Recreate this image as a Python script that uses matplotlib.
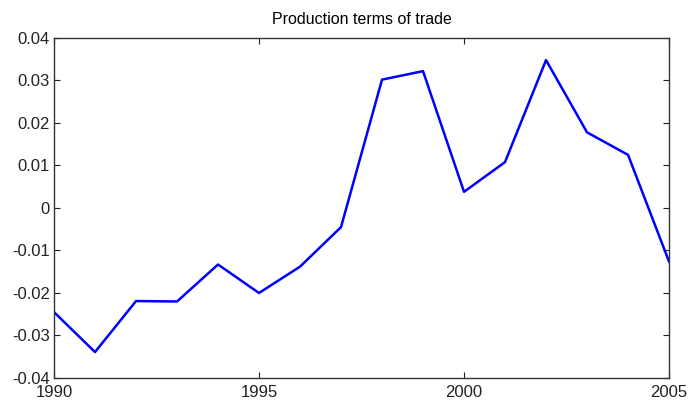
import numpy as np
import matplotlib.pyplot as plt

plt.rcParams['font.family'] = ['Liberation Sans', 'DejaVu Sans']

# Production terms of trade, yearly
years = [1990, 1991, 1992, 1993, 1994, 1995, 1996, 1997,
         1998, 1999, 2000, 2001, 2002, 2003, 2004, 2005]
tot = [-0.0245, -0.0339, -0.0219, -0.0220, -0.0133, -0.0200, -0.0138, -0.0045,
       0.0302, 0.0322, 0.0038, 0.0108, 0.0348, 0.0178, 0.0125, -0.0126]

x_ticks = [1990, 1995, 2000, 2005]
y_ticks = [-0.04, -0.03, -0.02, -0.01, 0, 0.01, 0.02, 0.03, 0.04]
y_labels = ["-0.04", "-0.03", "-0.02", "-0.01", "0", "0.01", "0.02", "0.03", "0.04"]

fig = plt.figure(figsize=(6.89, 4.05), dpi=100)
ax = fig.add_axes([0.0784, 0.0667, 0.8926, 0.8395])

ax.plot(years, tot, color="#0000ff", linewidth=1.8)

ax.set_xlim(1990, 2005)
ax.set_ylim(-0.04, 0.04)
ax.set_xticks(x_ticks)
ax.set_yticks(y_ticks)
ax.set_yticklabels(y_labels)
ax.tick_params(direction="in", length=4, width=0.8, top=True, right=True,
               labelsize=12, colors="#222222")
ax.tick_params(axis="x", pad=5)
ax.tick_params(axis="y", pad=3)
for s in ax.spines.values():
    s.set_color("#333333")
    s.set_linewidth(1.0)

ax.set_title("Production terms of trade", fontsize=11.5, pad=10)

fig.savefig("out.png", dpi=100)
